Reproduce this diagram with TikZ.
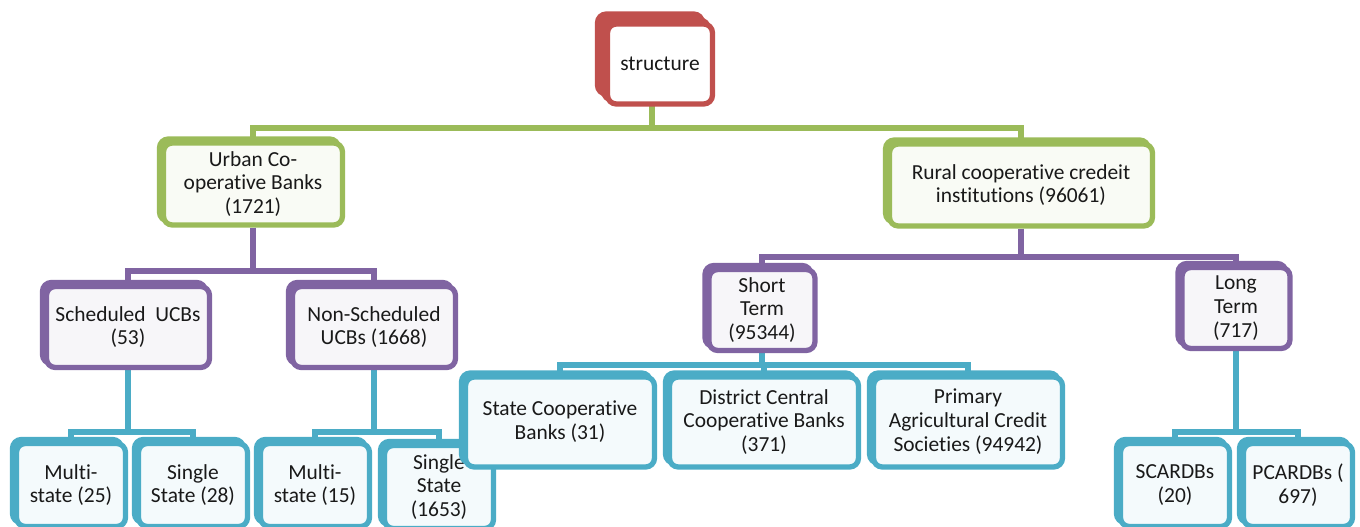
\documentclass[tikz,border=0pt]{standalone}
\usepackage{fontspec}
\setmainfont{Carlito}[Ligatures=NoCommon]
\usetikzlibrary{shadows,backgrounds,calc}
\definecolor{accred}{HTML}{C0504D}
\definecolor{accgreen}{HTML}{9BBB59}
\definecolor{accpurple}{HTML}{8064A2}
\definecolor{accteal}{HTML}{4BACC6}
\newcommand\orgfont{\fontsize{12.2}{13.6}\selectfont}
\tikzset{
  basic/.style  = {rectangle, rounded corners=5pt, line width=3pt, align=center,
    inner sep=1pt, font=\orgfont, text=black!90, draw=#1, fill=#1!6!white,
    copy shadow={shadow xshift=-0.08cm, shadow yshift=0.08cm, draw=#1, fill=#1}},
  root/.style   = {basic=accred, fill=white, minimum width=2.1cm, minimum height=1.6cm,
    copy shadow={shadow xshift=-0.2cm, shadow yshift=0.2cm, draw=accred, fill=accred}},
  mlevel1/.style = {basic=accgreen, minimum height=1.64cm},
  mlevel2/.style = {basic=accpurple, minimum height=1.62cm},
  mlevel3/.style = {basic=accteal, minimum height=1.66cm, minimum width=2.18cm},
  mstep3/.style  = {basic=accteal, minimum height=1.8cm, minimum width=3.78cm},
  link0/.style = {line width=3.4pt, accgreen},
  link1/.style = {line width=3.4pt, accpurple},
  link2/.style = {line width=3.4pt, accteal}
}

\begin{document}
\begin{tikzpicture}[x=0.02cm, y=-0.02cm]
\clip (0,0) rectangle (1360,527);

\node[root] (structure) at (660,64) {structure};

\node[mlevel1, minimum width=3.58cm] (urban) at (253,184) {Urban Co-\\operative Banks\\(1721)};
\node[mlevel1, minimum width=5.26cm] (rural) at (1021,185) {Rural cooperative credeit\\institutions (96061)};

\node[mlevel2, minimum width=3.26cm] (sched) at (128,327) {Scheduled\ \ UCBs\\(53)};
\node[mlevel2, minimum width=3.26cm] (nonsched) at (374,327) {Non-Scheduled\\UCBs (1668)};
\node[mlevel2, minimum width=2.12cm] (short) at (762,310) {Short\\Term\\(95344)};
\node[mlevel2, minimum width=2.16cm] (long) at (1236,308) {Long\\Term\\(717)};

\node[mlevel3] (multi25) at (71,485) {Multi-\\state (25)};
\node[mlevel3] (single28) at (193,485) {Single\\State (28)};
\node[mlevel3] (multi15) at (315,485) {Multi-\\state (15)};
\node[mlevel3] (single1653) at (439,487) {Single\\State\\(1653)};

\node[mstep3] (statecb) at (560,422) {State Cooperative\\Banks (31)};
\node[mstep3] (district) at (764,422) {District Central\\Cooperative Banks\\(371)};
\node[mstep3] (pacs) at (968,422) {Primary\\Agricultural Credit\\Societies (94942)};

\node[mlevel3] (scardb) at (1175,485) {SCARDBs\\(20)};
\node[mlevel3] (pcardb) at (1298,485) {PCARDBs (\\697)};

% connectors behind the boxes
\begin{scope}[on background layer]
\coordinate (topbar) at (0,128);
\coordinate (urbanbar) at (0,271);
\coordinate (ruralbar) at (0,257);
\coordinate (shortbar) at (0,365);
\coordinate (lowbar) at (0,432);
\foreach \kid in {urban,rural}
  \draw[link0] ([xshift=-0.16cm]structure.center) |- (topbar -| \kid) -- (\kid);
\foreach \kid in {sched,nonsched}
  \draw[link1] (urban) |- (urbanbar -| \kid) -- (\kid);
\foreach \kid in {short,long}
  \draw[link1] (rural) |- (ruralbar -| \kid) -- (\kid);
\foreach \kid in {multi25,single28}
  \draw[link2] (sched) |- (lowbar -| \kid) -- (\kid);
\foreach \kid in {multi15,single1653}
  \draw[link2] (nonsched) |- (lowbar -| \kid) -- (\kid);
\foreach \kid in {statecb,district,pacs}
  \draw[link2] (short) |- (shortbar -| \kid) -- (\kid);
\foreach \kid in {scardb,pcardb}
  \draw[link2] (long) |- (lowbar -| \kid) -- (\kid);
\end{scope}
\end{tikzpicture}
\end{document}
